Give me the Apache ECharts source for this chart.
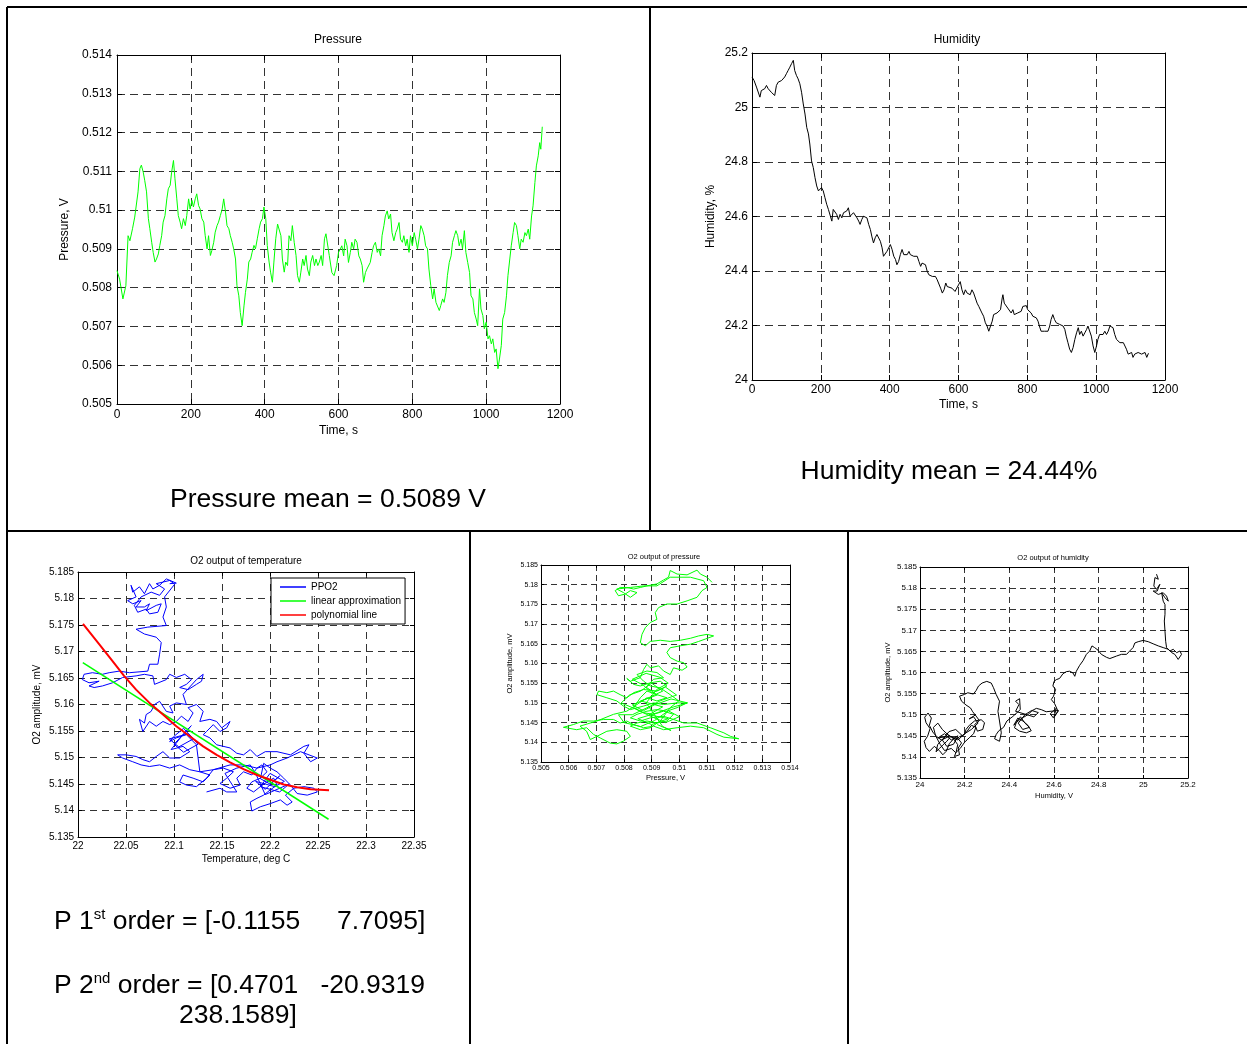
<!DOCTYPE html>
<html>
<head>
<meta charset="utf-8">
<script src="https://cdn.jsdelivr.net/npm/echarts@6/dist/echarts.min.js"></script>
<style>
  html, body { margin: 0; padding: 0; background: #fff; }
  #main { width: 1247px; height: 1044px; }
</style>
</head>
<body>
<div id="main"></div>
<script>
// ---- measured series: [time s, pressure V] ----
const pressureReadings = [
  [0,0.50844],[7,0.50822],[16,0.50771],[24,0.50805],[30,0.50934],[35,0.50921],[42,0.50952],[48,0.50982],[53,0.50986],[57,0.51047],
  [62,0.51107],[66,0.51116],[71,0.51098],[75,0.51077],[80,0.51047],[85,0.50978],[89,0.50952],[94,0.50917],[98,0.50891],[103,0.50866],
  [107,0.50874],[112,0.50887],[116,0.50909],[121,0.50934],[125,0.50969],[130,0.50986],[135,0.51029],[139,0.51055],[144,0.51064],[148,0.51098],
  [153,0.51128],[157,0.51081],[162,0.51029],[166,0.50986],[171,0.50969],[175,0.50952],[180,0.50978],[185,0.50960],[189,0.50986],[194,0.51029],
  [198,0.51003],[203,0.51025],[207,0.51008],[212,0.51029],[216,0.51042],[221,0.51012],[225,0.51003],[230,0.50978],[235,0.50969],[239,0.50934],
  [244,0.50900],[248,0.50934],[253,0.50883],[257,0.50896],[262,0.50917],[266,0.50943],[271,0.50960],[275,0.50969],[280,0.50986],[285,0.51003],
  [289,0.51029],[294,0.50995],[298,0.50960],[303,0.50952],[307,0.50934],[312,0.50917],[316,0.50900],[321,0.50874],[325,0.50805],[330,0.50779],
  [334,0.50736],[339,0.50702],[344,0.50753],[348,0.50788],[353,0.50822],[357,0.50866],[362,0.50874],[366,0.50891],[371,0.50909],[375,0.50900],
  [380,0.50926],[385,0.50952],[389,0.50969],[394,0.50978],[398,0.51008],[403,0.50978],[407,0.50909],[412,0.50866],[416,0.50840],[421,0.50814],
  [425,0.50866],[430,0.50926],[435,0.50964],[439,0.50960],[444,0.50934],[448,0.50874],[453,0.50840],[457,0.50866],[462,0.50857],[466,0.50934],
  [471,0.50921],[475,0.50960],[480,0.50917],[485,0.50883],[489,0.50831],[494,0.50814],[498,0.50840],[503,0.50874],[507,0.50857],[512,0.50883],
  [516,0.50848],[521,0.50831],[525,0.50866],[530,0.50883],[535,0.50857],[539,0.50874],[544,0.50857],[548,0.50866],[553,0.50883],[557,0.50857],
  [562,0.50926],[566,0.50939],[571,0.50943],[575,0.50883],[582,0.50839],[588,0.50831],[595,0.50857],[600,0.50891],[605,0.50900],[609,0.50908],
  [614,0.50882],[618,0.50925],[623,0.50908],[627,0.50865],[632,0.50891],[636,0.50917],[641,0.50900],[645,0.50925],[650,0.50917],[655,0.50882],
  [659,0.50874],[664,0.50857],[668,0.50814],[673,0.50839],[677,0.50848],[682,0.50848],[686,0.50865],[691,0.50891],[695,0.50908],[700,0.50917],
  [705,0.50891],[709,0.50900],[714,0.50882],[718,0.50934],[723,0.50960],[727,0.50985],[732,0.50998],[736,0.50977],[741,0.50990],[745,0.50942],
  [750,0.50921],[755,0.50942],[759,0.50951],[764,0.50968],[768,0.50925],[773,0.50917],[777,0.50934],[782,0.50908],[786,0.50925],[791,0.50891],
  [795,0.50934],[800,0.50908],[805,0.50942],[809,0.50925],[814,0.50900],[818,0.50925],[823,0.50960],[827,0.50951],[832,0.50934],[836,0.50908],
  [841,0.50900],[845,0.50848],[850,0.50805],[855,0.50771],[859,0.50797],[864,0.50762],[868,0.50758],[873,0.50741],[877,0.50754],[882,0.50771],
  [886,0.50762],[891,0.50788],[895,0.50831],[900,0.50865],[905,0.50882],[909,0.50917],[914,0.50934],[918,0.50947],[923,0.50934],[927,0.50908],
  [932,0.50925],[936,0.50900],[941,0.50947],[945,0.50891],[950,0.50865],[955,0.50839],[959,0.50779],[964,0.50771],[968,0.50736],[973,0.50719],
  [977,0.50702],[982,0.50797],[986,0.50745],[991,0.50728],[995,0.50694],[1000,0.50711],[1005,0.50668],[1009,0.50676],[1014,0.50655],[1018,0.50668],
  [1023,0.50633],[1027,0.50642],[1032,0.50591],[1036,0.50616],[1041,0.50651],[1045,0.50719],[1050,0.50736],[1055,0.50779],[1059,0.50831],[1064,0.50874],
  [1068,0.50908],[1073,0.50942],[1077,0.50968],[1082,0.50960],[1086,0.50934],[1091,0.50900],[1095,0.50925],[1100,0.50917],[1105,0.50942],[1109,0.50934],
  [1114,0.50951],[1118,0.50925],[1123,0.50985],[1127,0.51011],[1132,0.51071],[1136,0.51114],[1141,0.51140],[1145,0.51174],[1148,0.51157],[1152,0.51215]
];

// ---- measured series: [time s, humidity %] ----
const humidityReadings = [
  [0,25.112],[6,25.099],[13,25.075],[18,25.081],[23,25.038],[27,25.062],[32,25.056],[37,25.069],[42,25.081],[47,25.069],
  [52,25.062],[56,25.056],[61,25.062],[66,25.044],[71,25.081],[76,25.093],[81,25.087],[86,25.099],[91,25.093],[95,25.112],
  [100,25.124],[105,25.136],[110,25.148],[115,25.161],[120,25.173],[124,25.136],[129,25.118],[134,25.105],[139,25.087],[144,25.056],
  [149,25.013],[154,24.976],[159,24.927],[164,24.903],[168,24.866],[173,24.804],[178,24.780],[183,24.743],[188,24.712],[193,24.694],
  [197,24.688],[202,24.706],[207,24.694],[212,24.669],[217,24.645],[222,24.626],[227,24.620],[232,24.583],[236,24.626],[241,24.620],
  [246,24.608],[251,24.589],[256,24.608],[261,24.595],[266,24.614],[271,24.608],[275,24.620],[280,24.632],[285,24.601],[290,24.595],
  [295,24.614],[300,24.608],[305,24.595],[310,24.583],[314,24.571],[319,24.589],[324,24.601],[329,24.608],[334,24.595],[339,24.571],
  [344,24.552],[348,24.528],[353,24.503],[358,24.522],[363,24.534],[368,24.528],[373,24.509],[378,24.485],[382,24.454],[387,24.448],
  [392,24.472],[397,24.466],[402,24.497],[407,24.479],[412,24.454],[417,24.442],[421,24.423],[426,24.435],[431,24.460],[436,24.479],
  [441,24.460],[446,24.466],[451,24.460],[456,24.472],[460,24.460],[465,24.466],[470,24.454],[475,24.448],[480,24.454],[485,24.435],
  [490,24.417],[494,24.429],[499,24.429],[504,24.423],[509,24.399],[514,24.386],[519,24.392],[524,24.380],[528,24.374],[533,24.380],
  [538,24.368],[543,24.362],[548,24.337],[553,24.319],[558,24.331],[563,24.356],[567,24.343],[572,24.337],[581,24.337],[585,24.331],
  [590,24.325],[595,24.319],[600,24.349],[605,24.361],[610,24.331],[615,24.313],[620,24.331],[625,24.319],[629,24.325],[634,24.313],
  [639,24.331],[644,24.319],[649,24.325],[654,24.282],[659,24.270],[663,24.264],[668,24.246],[673,24.234],[678,24.210],[683,24.198],
  [688,24.179],[693,24.198],[698,24.216],[702,24.240],[707,24.234],[712,24.246],[717,24.246],[722,24.258],[727,24.301],[729,24.313],
  [733,24.282],[738,24.276],[743,24.264],[748,24.258],[753,24.246],[758,24.258],[762,24.240],[767,24.234],[772,24.246],[777,24.240],
  [782,24.252],[787,24.270],[792,24.264],[797,24.273],[801,24.258],[806,24.252],[811,24.246],[816,24.234],[821,24.240],[826,24.228],
  [831,24.216],[835,24.198],[840,24.179],[845,24.173],[850,24.179],[855,24.173],[860,24.179],[865,24.198],[869,24.222],[874,24.240],
  [879,24.222],[884,24.210],[889,24.216],[894,24.204],[899,24.210],[904,24.198],[909,24.185],[913,24.161],[918,24.137],[923,24.113],
  [928,24.101],[933,24.119],[938,24.149],[943,24.173],[948,24.192],[952,24.167],[957,24.179],[962,24.161],[967,24.173],[972,24.185],
  [976,24.198],[981,24.192],[986,24.161],[991,24.125],[996,24.101],[1001,24.125],[1005,24.149],[1010,24.167],[1015,24.173],[1020,24.167],
  [1025,24.179],[1030,24.167],[1035,24.179],[1040,24.198],[1044,24.204],[1049,24.192],[1054,24.167],[1059,24.149],[1064,24.149],[1069,24.137],
  [1074,24.143],[1079,24.137],[1083,24.131],[1088,24.113],[1093,24.095],[1098,24.089],[1103,24.101],[1107,24.083],[1112,24.095],[1117,24.089],
  [1122,24.101],[1127,24.107],[1132,24.095],[1137,24.089],[1142,24.101],[1147,24.083],[1152,24.098]
];

// ---- PPO2 against temperature: [deg C, mV] ----
const o2VsTemperature = [
  [22.0955,5.1828],[22.1024,5.1829],[22.0920,5.1837],[22.0850,5.1825],[22.0780,5.1818],[22.0745,5.1828],[22.0692,5.1809],[22.0640,5.1822],
  [22.0570,5.1812],[22.0552,5.1825],[22.0605,5.1803],[22.0517,5.1796],[22.0570,5.1790],[22.0657,5.1796],[22.0605,5.1784],[22.0692,5.1784],
  [22.0745,5.1790],[22.0710,5.1777],[22.0815,5.1787],[22.0867,5.1790],[22.0832,5.1774],[22.0745,5.1771],[22.0710,5.1780],[22.0622,5.1774],
  [22.0587,5.1787],[22.0657,5.1803],[22.0762,5.1812],[22.0850,5.1806],[22.0902,5.1818],[22.0815,5.1828],[22.0955,5.1834],[22.1007,5.1827],
  [22.0902,5.1803],[22.0920,5.1784],[22.0885,5.1765],[22.0920,5.1749],[22.0727,5.1746],[22.0605,5.1742],[22.0692,5.1733],[22.0815,5.1727],
  [22.0867,5.1717],[22.0850,5.1695],[22.0832,5.1676],[22.0745,5.1676],[22.0727,5.1663],[22.0535,5.1660],[22.0430,5.1663],[22.0325,5.1660],
  [22.0255,5.1657],[22.0150,5.1660],[22.0063,5.1657],[22.0045,5.1647],[22.0115,5.1641],[22.0220,5.1644],[22.0115,5.1635],[22.0168,5.1632],
  [22.0255,5.1635],[22.0360,5.1641],[22.0465,5.1651],[22.0605,5.1654],[22.0692,5.1657],[22.0780,5.1654],[22.0797,5.1638],[22.0920,5.1647],
  [22.0955,5.1657],[22.1024,5.1651],[22.1112,5.1657],[22.1182,5.1647],[22.1129,5.1638],[22.1059,5.1632],[22.1147,5.1628],[22.1234,5.1638],
  [22.1287,5.1644],[22.1304,5.1657],[22.1234,5.1647],[22.1094,5.1619],[22.1129,5.1600],[22.1024,5.1603],[22.0955,5.1597],[22.0990,5.1584],
  [22.0920,5.1587],[22.0850,5.1606],[22.0797,5.1600],[22.0762,5.1587],[22.0710,5.1581],[22.0692,5.1565],[22.0640,5.1572],[22.0675,5.1549],
  [22.0745,5.1568],[22.0815,5.1559],[22.0885,5.1568],[22.0955,5.1562],[22.1024,5.1568],[22.1077,5.1578],[22.1147,5.1568],[22.1199,5.1584],
  [22.1147,5.1594],[22.1234,5.1600],[22.1304,5.1587],[22.1269,5.1568],[22.1374,5.1572],[22.1444,5.1568],[22.1497,5.1556],[22.1584,5.1568],
  [22.1549,5.1556],[22.1479,5.1549],[22.1409,5.1562],[22.1339,5.1549],[22.1304,5.1543],[22.1374,5.1537],[22.1444,5.1524],[22.1584,5.1518],
  [22.1654,5.1508],[22.1724,5.1505],[22.1794,5.1515],[22.1864,5.1502],[22.1951,5.1511],[22.2073,5.1511],[22.2213,5.1505],[22.2353,5.1521],
  [22.2406,5.1524],[22.2353,5.1508],[22.2423,5.1492],[22.2493,5.1499],[22.2318,5.1511],[22.2178,5.1499],[22.2073,5.1492],[22.2003,5.1486],
  [22.1864,5.1480],[22.1724,5.1486],[22.1584,5.1486],[22.1409,5.1477],[22.1269,5.1473],[22.1234,5.1524],[22.1129,5.1543],[22.1024,5.1537],
  [22.0955,5.1530],[22.1000,5.1540],[22.1100,5.1555],[22.1200,5.1535],[22.1050,5.1520],[22.0950,5.1535],[22.1150,5.1545],[22.1250,5.1525],
  [22.1100,5.1510],[22.1000,5.1525],[22.1180,5.1560],[22.1080,5.1540],[22.0970,5.1515],
  [22.0990,5.1518],[22.1094,5.1521],[22.1164,5.1511],[22.1059,5.1499],[22.0955,5.1499],[22.0885,5.1511],[22.0815,5.1502],
  [22.0745,5.1492],[22.0675,5.1496],[22.0605,5.1502],[22.0500,5.1505],[22.0413,5.1505],[22.0465,5.1499],[22.0570,5.1492],[22.0657,5.1486],
  [22.0745,5.1483],[22.0850,5.1486],[22.0955,5.1480],[22.1059,5.1486],[22.1164,5.1477],[22.1269,5.1473],[22.1374,5.1467],[22.1304,5.1454],
  [22.1199,5.1461],[22.1094,5.1467],[22.1059,5.1454],[22.1129,5.1448],[22.1234,5.1445],[22.1339,5.1461],[22.1409,5.1477],[22.1514,5.1480],
  [22.1619,5.1473],[22.1549,5.1461],[22.1479,5.1451],[22.1584,5.1442],[22.1689,5.1448],[22.1654,5.1461],[22.1724,5.1473],[22.1811,5.1467],
  [22.1864,5.1480],[22.1916,5.1486],[22.1969,5.1473],[22.1899,5.1461],[22.1811,5.1454],[22.1759,5.1442],[22.1829,5.1435],[22.1899,5.1445],
  [22.1969,5.1454],[22.2038,5.1461],[22.2073,5.1448],[22.2003,5.1439],[22.1934,5.1429],[22.1864,5.1423],[22.1794,5.1416],[22.1811,5.1399],
  [22.1899,5.1407],[22.2003,5.1413],[22.2108,5.1420],[22.2178,5.1410],[22.2231,5.1416],[22.2161,5.1429],[22.2248,5.1442],[22.2353,5.1445],
  [22.2458,5.1442],[22.2493,5.1435],[22.2388,5.1429],[22.2283,5.1432],[22.2213,5.1448],[22.2143,5.1461],[22.2073,5.1473],[22.2003,5.1480],
  [22.1934,5.1489],[22.1900,5.1460],[22.2000,5.1450],[22.2100,5.1465],[22.1950,5.1440],[22.1850,5.1455],[22.2050,5.1445],[22.2150,5.1455],
  [22.2000,5.1470],[22.1900,5.1445],[22.2100,5.1435],[22.2200,5.1450],[22.1950,5.1430],[22.1850,5.1470],
  [22.1794,5.1486],[22.1654,5.1480],[22.1531,5.1470],[22.1654,5.1435],[22.1549,5.1435],[22.1479,5.1442],[22.1339,5.1435]
];

// first-order fit coefficients [slope, intercept] and the temperature span it covers
const linearFit = [-0.1155, 7.7095];
const linearSpan = [22.005, 22.261];

// second-order fit curve: [deg C, mV]
const polynomialCurve = [
  [22.0052,5.1752],[22.0220,5.1714],[22.0360,5.1682],[22.0480,5.1654],[22.0605,5.1628],[22.0745,5.1603],[22.0885,5.1581],
  [22.1024,5.1559],[22.1164,5.1540],[22.1304,5.1521],[22.1444,5.1505],[22.1584,5.1491],[22.1724,5.1478],[22.1864,5.1467],
  [22.2003,5.1458],[22.2143,5.1449],[22.2283,5.1444],[22.2423,5.1440],[22.2615,5.1438]
];

// ---- PPO2 against pressure: [V, mV] ----
const o2VsPressure = [
  [0.51118,5.1806],[0.51100,5.1819],[0.51076,5.1827],[0.51064,5.1837],[0.51028,5.1825],[0.50992,5.1827],[0.50967,5.1836],[0.50961,5.1819],
  [0.50943,5.1812],[0.50919,5.1802],[0.50883,5.1797],[0.50859,5.1793],[0.50835,5.1789],[0.50810,5.1793],[0.50786,5.1793],[0.50768,5.1785],
  [0.50780,5.1772],[0.50804,5.1776],[0.50823,5.1785],[0.50847,5.1780],[0.50823,5.1768],[0.50798,5.1780],[0.50774,5.1789],[0.50823,5.1793],
  [0.50871,5.1797],[0.50919,5.1797],[0.50967,5.1819],[0.51040,5.1819],[0.51088,5.1810],[0.51100,5.1793],[0.51082,5.1785],[0.51064,5.1768],
  [0.51028,5.1759],[0.50992,5.1751],[0.50955,5.1751],[0.50925,5.1742],[0.50913,5.1729],[0.50919,5.1712],[0.50895,5.1704],[0.50877,5.1691],
  [0.50865,5.1674],[0.50859,5.1653],[0.50877,5.1645],[0.50895,5.1656],[0.50931,5.1659],[0.50967,5.1656],[0.51004,5.1659],[0.51040,5.1664],
  [0.51070,5.1670],[0.51100,5.1674],[0.51124,5.1670],[0.51094,5.1662],[0.51070,5.1656],[0.51040,5.1649],[0.51004,5.1645],[0.50967,5.1640],
  [0.50955,5.1628],[0.50967,5.1615],[0.50992,5.1606],[0.51016,5.1602],[0.51028,5.1591],[0.51010,5.1583],[0.50979,5.1589],[0.50967,5.1572],
  [0.50943,5.1581],[0.50925,5.1594],[0.50895,5.1589],[0.50883,5.1598],[0.50871,5.1585],[0.50859,5.1564],[0.50823,5.1555],[0.50810,5.1562],
  [0.50835,5.1547],[0.50859,5.1543],[0.50895,5.1551],[0.50931,5.1555],[0.50955,5.1543],[0.50919,5.1530],[0.50871,5.1534],[0.50835,5.1526],
  [0.50810,5.1513],[0.50786,5.1521],[0.50762,5.1530],[0.50738,5.1526],[0.50708,5.1530],[0.50702,5.1521],[0.50738,5.1513],[0.50774,5.1505],
  [0.50798,5.1492],[0.50823,5.1483],[0.50871,5.1492],[0.50907,5.1500],[0.50943,5.1496],[0.50992,5.1500],[0.51028,5.1500],[0.50992,5.1488],
  [0.50955,5.1479],[0.50919,5.1483],[0.50883,5.1479],[0.50847,5.1471],[0.50823,5.1462],[0.50859,5.1454],[0.50895,5.1462],[0.50943,5.1466],
  [0.50979,5.1458],[0.51016,5.1449],[0.51064,5.1449],[0.51112,5.1437],[0.51161,5.1424],[0.51185,5.1415],[0.51215,5.1409],[0.51161,5.1413],
  [0.51136,5.1420],[0.51088,5.1437],[0.51040,5.1441],[0.50992,5.1437],[0.50943,5.1432],[0.50907,5.1441],[0.50871,5.1437],[0.50835,5.1445],
  [0.50810,5.1454],[0.50786,5.1449],[0.50762,5.1458],[0.50726,5.1458],[0.50690,5.1454],[0.50653,5.1454],[0.50617,5.1445],[0.50581,5.1438],
  [0.50629,5.1432],[0.50665,5.1437],[0.50690,5.1420],[0.50714,5.1411],[0.50750,5.1398],[0.50774,5.1396],[0.50798,5.1403],[0.50823,5.1415],
  [0.50810,5.1428],[0.50774,5.1432],[0.50738,5.1428],[0.50702,5.1415],[0.50678,5.1407],[0.50665,5.1428],[0.50641,5.1441],[0.50702,5.1454],
  [0.50762,5.1471],[0.50810,5.1479],[0.50847,5.1496],[0.50883,5.1513],[0.50919,5.1505],[0.50955,5.1513],[0.50919,5.1521],[0.50883,5.1530],
  [0.50859,5.1513],[0.50835,5.1488],[0.50871,5.1475],[0.50907,5.1471],[0.50943,5.1479],[0.50979,5.1471],[0.50955,5.1454],[0.50919,5.1449],
  [0.50883,5.1454],[0.50847,5.1449],[0.50823,5.1441],[0.50859,5.1432],[0.50895,5.1437],[0.50931,5.1454],[0.50967,5.1488],[0.50998,5.1505],
  [0.50967,5.1521],[0.50931,5.1538],[0.50895,5.1543],[0.50871,5.1555],[0.50847,5.1572],[0.50883,5.1581],[0.50919,5.1577],[0.50943,5.1564],
  [0.50907,5.1560],[0.50880,5.1540],[0.50920,5.1520],[0.50860,5.1505],[0.50940,5.1490],[0.50890,5.1470],[0.50960,5.1460],[0.50900,5.1445],
  [0.50850,5.1460],[0.50920,5.1475],[0.50980,5.1490],[0.51030,5.1500],[0.50970,5.1510],[0.50910,5.1495],[0.50870,5.1480],[0.50830,5.1495],
  [0.50880,5.1510],[0.50940,5.1530],[0.50900,5.1550],[0.50860,5.1530],[0.50820,5.1520],[0.50790,5.1500],[0.50840,5.1485],[0.50900,5.1465],
  [0.50950,5.1450],[0.51000,5.1465],[0.50960,5.1480],[0.50910,5.1455],[0.50860,5.1440],[0.50800,5.1450],[0.50780,5.1470],[0.50830,5.1470],
  [0.50890,5.1490],[0.50930,5.1505],[0.50990,5.1520],[0.50950,5.1540],[0.50900,5.1525],[0.50870,5.1545],[0.50830,5.1560],[0.50880,5.1575],
  [0.50930,5.1565],[0.50960,5.1550],[0.50920,5.1535],[0.50880,5.1500],[0.50920,5.1460],[0.50940,5.1440],[0.50970,5.1430],[0.50920,5.1445]
];

// ---- PPO2 against humidity: [humidity, mV] ----
const o2VsHumidity = [
  [25.059,5.1833],[25.067,5.1821],[25.052,5.1825],[25.047,5.1805],[25.059,5.1797],[25.074,5.1809],[25.062,5.1793],[25.044,5.1793],
  [25.067,5.1785],[25.089,5.1789],[25.104,5.1781],[25.112,5.1769],[25.097,5.1777],[25.082,5.1789],[25.089,5.1769],[25.097,5.1761],
  [25.097,5.1738],[25.094,5.1722],[25.097,5.1698],[25.100,5.1674],[25.104,5.1659],[25.119,5.1651],[25.134,5.1655],[25.149,5.1647],
  [25.164,5.1651],[25.171,5.1643],[25.156,5.1631],[25.141,5.1643],[25.127,5.1647],[25.112,5.1655],[25.089,5.1659],[25.067,5.1663],
  [25.044,5.1668],[25.022,5.1673],[24.999,5.1676],[24.977,5.1673],[24.962,5.1670],[24.954,5.1659],[24.939,5.1651],[24.925,5.1643],
  [24.902,5.1643],[24.880,5.1639],[24.850,5.1633],[24.835,5.1636],[24.812,5.1643],[24.797,5.1653],[24.782,5.1659],[24.770,5.1663],
  [24.760,5.1651],[24.745,5.1643],[24.730,5.1628],[24.715,5.1617],[24.700,5.1603],[24.693,5.1591],[24.685,5.1599],[24.670,5.1603],
  [24.655,5.1602],[24.640,5.1597],[24.625,5.1586],[24.610,5.1583],[24.600,5.1579],[24.595,5.1568],[24.607,5.1560],[24.598,5.1544],
  [24.588,5.1536],[24.603,5.1526],[24.618,5.1508],[24.598,5.1492],[24.583,5.1502],[24.590,5.1505],[24.610,5.1515],[24.600,5.1495],
  [24.620,5.1510],[24.565,5.1507],[24.543,5.1512],[24.521,5.1515],
  [24.503,5.1510],[24.483,5.1500],[24.464,5.1494],[24.446,5.1488],[24.431,5.1481],[24.423,5.1469],[24.446,5.1461],[24.476,5.1457],
  [24.498,5.1462],[24.483,5.1475],[24.461,5.1485],[24.438,5.1492],[24.420,5.1475],[24.450,5.1495],[24.470,5.1480],[24.490,5.1470],
  [24.460,5.1465],[24.440,5.1480],[24.470,5.1500],[24.500,5.1510],[24.530,5.1505],[24.510,5.1495],[24.428,5.1508],[24.443,5.1524],
  [24.428,5.1532],[24.446,5.1538],
  [24.449,5.1512],[24.416,5.1496],[24.389,5.1485],[24.374,5.1470],[24.353,5.1462],[24.341,5.1453],[24.334,5.1443],[24.356,5.1437],
  [24.364,5.1457],[24.356,5.1485],[24.349,5.1508],[24.356,5.1532],[24.341,5.1548],[24.329,5.1564],[24.319,5.1575],[24.299,5.1579],
  [24.278,5.1575],[24.262,5.1568],[24.251,5.1557],[24.239,5.1549],[24.214,5.1552],[24.199,5.1548],[24.177,5.1544],[24.186,5.1532],
  [24.206,5.1523],[24.226,5.1516],[24.236,5.1507],[24.248,5.1499],[24.266,5.1486],[24.245,5.1477],[24.257,5.1461],[24.281,5.1465],
  [24.289,5.1481],[24.274,5.1488],[24.244,5.1485],[24.221,5.1475],[24.206,5.1465],[24.199,5.1453],[24.177,5.1448],[24.162,5.1441],
  [24.139,5.1449],[24.120,5.1437],[24.102,5.1428],[24.087,5.1420],[24.072,5.1412],[24.079,5.1429],[24.102,5.1443],[24.124,5.1453],
  [24.147,5.1445],[24.169,5.1429],[24.162,5.1412],[24.154,5.1401],[24.177,5.1405],[24.171,5.1421],[24.186,5.1433],[24.162,5.1449],
  [24.132,5.1432],[24.117,5.1413],[24.102,5.1405],[24.087,5.1415],[24.064,5.1425],[24.042,5.1413],[24.027,5.1422],[24.019,5.1437],
  [24.034,5.1449],[24.045,5.1467],[24.027,5.1481],[24.021,5.1494],[24.036,5.1504],[24.051,5.1492],[24.042,5.1475],[24.057,5.1459],
  [24.075,5.1448],[24.096,5.1440],[24.132,5.1449],[24.080,5.1445],[24.110,5.1455],[24.140,5.1440],[24.170,5.1450],[24.150,5.1430],
  [24.120,5.1425],[24.100,5.1440],[24.130,5.1460],[24.160,5.1465],[24.190,5.1450],[24.210,5.1460],[24.230,5.1475],[24.250,5.1470],
  [24.240,5.1455],[24.220,5.1445],[24.200,5.1435],[24.180,5.1420],[24.160,5.1410],[24.140,5.1420],[24.110,5.1415],[24.090,5.1430],
  [24.070,5.1450],[24.060,5.1470],[24.080,5.1480],[24.100,5.1465],[24.130,5.1450],[24.170,5.1440],[24.200,5.1455],[24.230,5.1465],
  [24.260,5.1480],[24.240,5.1495],[24.220,5.1490],[24.250,5.1500]
];

// axis ranges: [min, max, step]
const timeRange = [0, 1200, 200];
const pressureRange = [0.505, 0.514, 0.001];
const humidityRange = [24, 25.2, 0.2];
const temperatureRange = [22, 22.35, 0.05];
const o2Range = [5.135, 5.185, 0.005];

const FONT = '"Liberation Sans", Arial, Helvetica, sans-serif';

// plot boxes and their axis styling
const panels = [
  { box: [117, 55, 443, 349], fs: 12, nfs: 12, tick: 5, margin: 5, dash: [8, 5],
    x: { range: timeRange, dec: 0, name: 'Time, s', gap: 21 },
    y: { range: pressureRange, dec: 3, name: 'Pressure, V', gap: 46 } },
  { box: [752, 53, 413, 327], fs: 12, nfs: 12, tick: 5, margin: 4, dash: [8, 5],
    x: { range: timeRange, dec: 0, name: 'Time, s', gap: 19 },
    y: { range: humidityRange, dec: 1, name: 'Humidity, %', gap: 35 } },
  { box: [78, 572, 336, 265], fs: 10, nfs: 10, tick: 4, margin: 4, dash: [7, 5],
    x: { range: temperatureRange, dec: 2, name: 'Temperature, deg C', gap: 17 },
    y: { range: o2Range, dec: 3, name: 'O2 amplitude, mV', gap: 36 } },
  { box: [541, 565, 249, 197], fs: 7, nfs: 7.5, tick: 3, margin: 3, dash: [6, 4],
    x: { range: pressureRange, dec: 3, name: 'Pressure, V', gap: 12 },
    y: { range: o2Range, dec: 3, name: 'O2 amplitude, mV', gap: 27 } },
  { box: [920, 567, 268, 211], fs: 8, nfs: 7.5, tick: 3, margin: 3, dash: [6, 4],
    x: { range: humidityRange, dec: 1, name: 'Humidity, V', gap: 14 },
    y: { range: o2Range, dec: 3, name: 'O2 amplitude, mV', gap: 28 } }
];

function axisPair(dim, gridIndex, p) {
  const a = p[dim];
  const [min, max, interval] = a.range;
  const line = { show: true, onZero: false, lineStyle: { color: '#000', width: 1 } };
  const tick = { show: true, inside: true, length: p.tick, lineStyle: { color: '#000', width: 1 } };
  const main = {
    type: 'value', gridIndex, min, max, interval,
    position: dim === 'x' ? 'bottom' : 'left',
    axisLine: line, axisTick: tick,
    axisLabel: {
      show: true, color: '#000', fontFamily: FONT, fontSize: p.fs, margin: p.margin,
      showMinLabel: true, showMaxLabel: true, hideOverlap: false,
      formatter: v => String(+v.toFixed(a.dec))
    },
    splitLine: { show: true, lineStyle: { color: '#333', width: 1, type: p.dash } },
    name: a.name, nameLocation: 'middle', nameGap: a.gap,
    nameTextStyle: { color: '#000', fontFamily: FONT, fontSize: p.nfs }
  };
  const frame = {
    type: 'value', gridIndex, min, max, interval,
    position: dim === 'x' ? 'top' : 'right',
    axisLine: line, axisTick: tick,
    axisLabel: { show: false }, splitLine: { show: false }
  };
  return [main, frame];
}

const grids = [], xAxes = [], yAxes = [];
panels.forEach((p, i) => {
  grids.push({ left: p.box[0], top: p.box[1], width: p.box[2], height: p.box[3], show: false });
  xAxes.push(...axisPair('x', i, p));
  yAxes.push(...axisPair('y', i, p));
});

function path(name, panelIndex, data, color, width, z) {
  return {
    name, type: 'line', xAxisIndex: panelIndex * 2, yAxisIndex: panelIndex * 2,
    data, symbol: 'none', showSymbol: false, smooth: false, sampling: null,
    lineStyle: { color, width }, itemStyle: { color }, z: z || 2, animation: false
  };
}

const linearLine = linearSpan.map(t => [t, +(linearFit[0] * t + linearFit[1]).toFixed(5)]);

const series = [
  path('Pressure', 0, pressureReadings, '#00ff00', 1),
  path('Humidity', 1, humidityReadings, '#000000', 1),
  path('PPO2', 2, o2VsTemperature, '#0000ff', 1, 3),
  path('linear approximation', 2, linearLine, '#00ff00', 1.5, 4),
  path('polynomial line', 2, polynomialCurve, '#ff0000', 2, 5),
  path('O2 vs pressure', 3, o2VsPressure, '#00ff00', 1),
  path('O2 vs humidity', 4, o2VsHumidity, '#000000', 1)
];

function label(text, x, y, size, align) {
  return {
    type: 'text', x, y, silent: true,
    style: { text, fill: '#000', font: size + 'px ' + FONT, align: align || 'center', verticalAlign: 'middle' }
  };
}
function rule(x1, y1, x2, y2) {
  return { type: 'line', silent: true, shape: { x1, y1, x2, y2 }, style: { stroke: '#000', lineWidth: 2 } };
}
const supRich = {
  n: { fontSize: 26.5, fontFamily: FONT, fill: '#000', lineHeight: 30 },
  s: { fontSize: 15, fontFamily: FONT, fill: '#000', lineHeight: 17, verticalAlign: 'top' }
};

const graphics = [
  // table frame
  rule(7, 7, 1247, 7),
  rule(7, 7, 7, 1044),
  rule(7, 531, 1247, 531),
  rule(650, 7, 650, 531),
  rule(470, 531, 470, 1044),
  rule(848, 531, 848, 1044),
  // plot titles
  label('Pressure', 338, 40, 12),
  label('Humidity', 957, 40, 12),
  label('O2 output of temperature', 246, 561, 10),
  label('O2 output of pressure', 664, 557, 7.5),
  label('O2 output of humidity', 1053, 558, 7.5),
  // summary texts
  label('Pressure mean = 0.5089 V', 328, 500, 26.5),
  label('Humidity mean = 24.44%', 949, 472, 26.5),
  { type: 'text', x: 54, y: 922, silent: true,
    style: { text: '{n|P 1}{s|st}{n| order = [-0.1155     7.7095]}', rich: supRich, align: 'left', verticalAlign: 'middle' } },
  { type: 'text', x: 54, y: 986, silent: true,
    style: { text: '{n|P 2}{s|nd}{n| order = [0.4701   -20.9319}', rich: supRich, align: 'left', verticalAlign: 'middle' } },
  label('238.1589]', 179, 1016, 26.5, 'left')
];

// thin bar used as the legend key for each line
const lineKey = 'path://M0,0H26V1.5H0Z';

const chart = echarts.init(document.getElementById('main'), null, { renderer: 'canvas' });
chart.setOption({
  backgroundColor: '#fff',
  animation: false,
  grid: grids,
  xAxis: xAxes,
  yAxis: yAxes,
  legend: {
    data: [
      { name: 'PPO2', icon: lineKey },
      { name: 'linear approximation', icon: lineKey },
      { name: 'polynomial line', icon: lineKey }
    ],
    left: 271, top: 578, orient: 'vertical',
    itemWidth: 26, itemHeight: 10, itemGap: 4, symbolKeepAspect: true,
    padding: [4, 4, 4, 9],
    backgroundColor: '#fff', borderColor: '#000', borderWidth: 1,
    selectedMode: false,
    textStyle: { color: '#000', fontFamily: FONT, fontSize: 10 }
  },
  series,
  graphic: graphics
});
</script>
</body>
</html>
